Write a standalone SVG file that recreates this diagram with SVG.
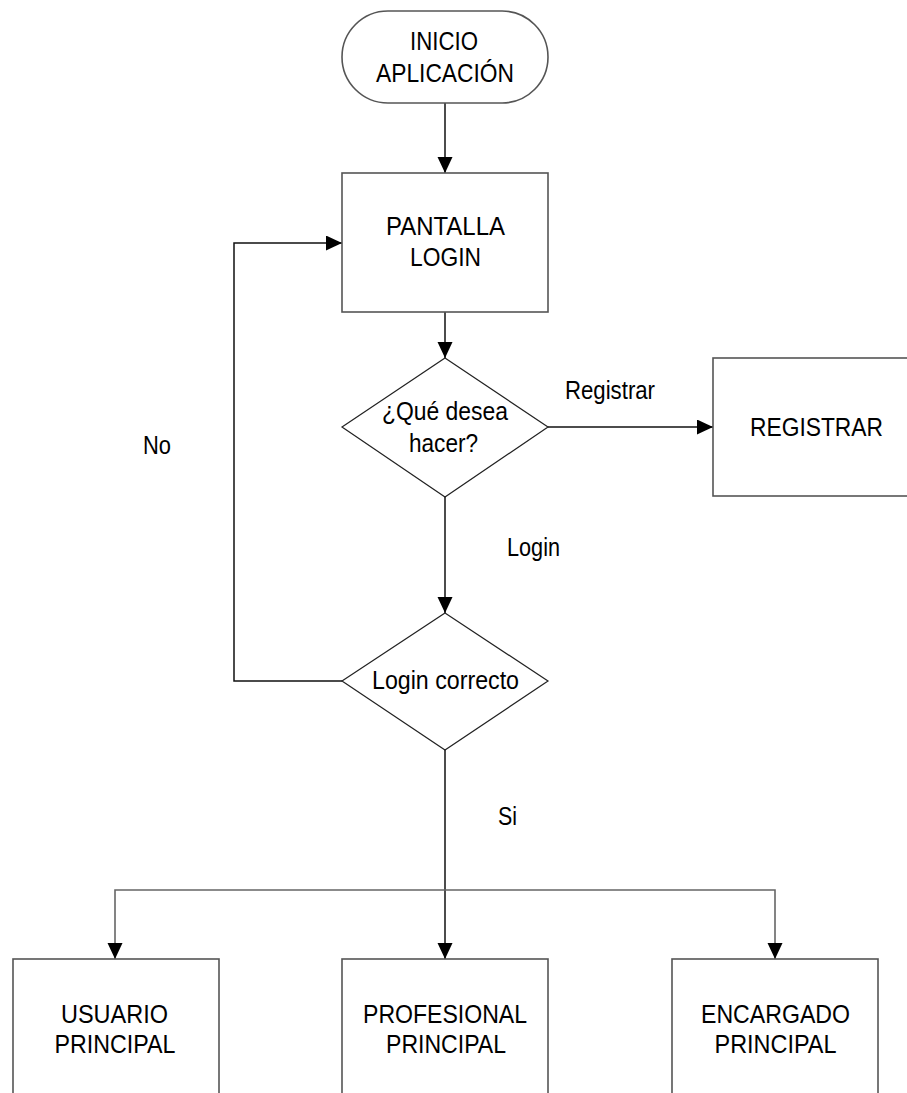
<svg xmlns="http://www.w3.org/2000/svg" width="907" height="1093" viewBox="0 0 907 1093">
<defs>
<marker id="arr" markerUnits="userSpaceOnUse" markerWidth="17" markerHeight="16" refX="16" refY="7.5" orient="auto">
<path d="M0,0 L16,7.5 L0,15 z" fill="#000"/>
</marker>
<style>
.shape{fill:#fff;stroke:#555;stroke-width:1.6}
.dia{fill:#fff;stroke:#222;stroke-width:1.2}
.con{fill:none;stroke:#111;stroke-width:1.5}
.con2{fill:none;stroke:#666;stroke-width:1.6}
text{font-family:"Liberation Sans",Arial,sans-serif;font-size:26px;fill:#000}
.c{text-anchor:middle}
</style>
</defs>
<rect width="907" height="1093" fill="#fff"/>
<g id="connectors">
<path class="con" d="M445,103 V173" marker-end="url(#arr)"/>
<path class="con" d="M445,312 V358" marker-end="url(#arr)"/>
<path class="con" d="M548,427 H713" marker-end="url(#arr)"/>
<path class="con" d="M445,497 V613" marker-end="url(#arr)"/>
<path class="con" d="M342,681 H234 V243 H342" marker-end="url(#arr)"/>
<path class="con" d="M445,750 V959" marker-end="url(#arr)"/>
<path class="con2" d="M445,890 H115 V959" marker-end="url(#arr)"/>
<path class="con2" d="M445,890 H775 V959" marker-end="url(#arr)"/>
<text x="565" y="399" textLength="90" lengthAdjust="spacingAndGlyphs">Registrar</text>
<text x="143" y="454" textLength="28" lengthAdjust="spacingAndGlyphs">No</text>
<text x="507" y="556" textLength="53" lengthAdjust="spacingAndGlyphs">Login</text>
<text x="498" y="825" textLength="19" lengthAdjust="spacingAndGlyphs">Si</text>
</g>
<g id="inicio">
<rect class="shape" x="342" y="11" width="206" height="92" rx="46" ry="46"/>
<text class="c" x="444" y="50" textLength="68" lengthAdjust="spacingAndGlyphs">INICIO</text>
<text class="c" x="445" y="82" textLength="138" lengthAdjust="spacingAndGlyphs">APLICACIÓN</text>
</g>
<g id="pantalla-login">
<rect class="shape" x="342" y="173" width="206" height="139"/>
<text class="c" x="445.5" y="235" textLength="119" lengthAdjust="spacingAndGlyphs">PANTALLA</text>
<text class="c" x="445.5" y="266" textLength="71" lengthAdjust="spacingAndGlyphs">LOGIN</text>
</g>
<g id="que-desea">
<polygon class="dia" points="445,358 548,427 445,497 342,427"/>
<text class="c" x="445" y="420" textLength="126" lengthAdjust="spacingAndGlyphs">¿Qué desea</text>
<text class="c" x="443.5" y="452" textLength="69" lengthAdjust="spacingAndGlyphs">hacer?</text>
</g>
<g id="registrar">
<rect class="shape" x="713" y="358" width="230" height="138"/>
<text class="c" x="816.5" y="436" textLength="133" lengthAdjust="spacingAndGlyphs">REGISTRAR</text>
</g>
<g id="login-correcto">
<polygon class="dia" points="445,613 548,681 445,750 342,681"/>
<text class="c" x="445.5" y="689" textLength="147" lengthAdjust="spacingAndGlyphs">Login correcto</text>
</g>
<g id="usuario">
<rect class="shape" x="13" y="959" width="206" height="200"/>
<text class="c" x="114.5" y="1023" textLength="107" lengthAdjust="spacingAndGlyphs">USUARIO</text>
<text class="c" x="115" y="1053" textLength="121" lengthAdjust="spacingAndGlyphs">PRINCIPAL</text>
</g>
<g id="profesional">
<rect class="shape" x="342" y="959" width="206" height="200"/>
<text class="c" x="445" y="1023" textLength="164" lengthAdjust="spacingAndGlyphs">PROFESIONAL</text>
<text class="c" x="446" y="1053" textLength="120" lengthAdjust="spacingAndGlyphs">PRINCIPAL</text>
</g>
<g id="encargado">
<rect class="shape" x="672" y="959" width="206" height="200"/>
<text class="c" x="775.5" y="1023" textLength="149" lengthAdjust="spacingAndGlyphs">ENCARGADO</text>
<text class="c" x="775.5" y="1053" textLength="122" lengthAdjust="spacingAndGlyphs">PRINCIPAL</text>
</g>
</svg>
